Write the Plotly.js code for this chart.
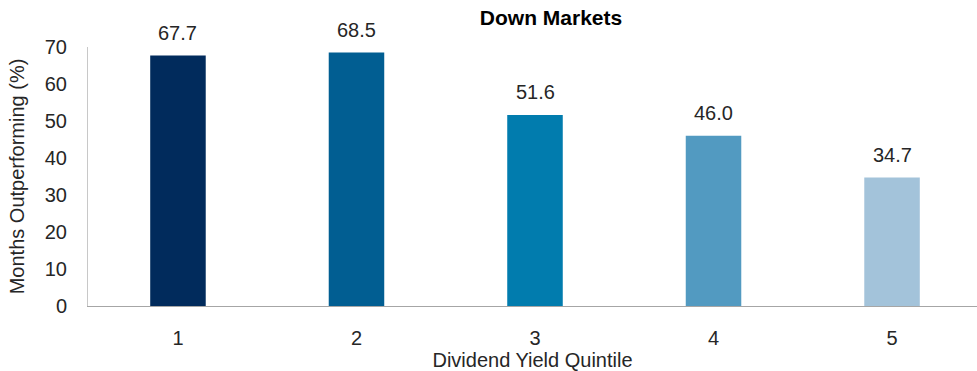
<!DOCTYPE html>
<html>
<head>
<meta charset="utf-8">
<script src="https://cdn.plot.ly/plotly-3.0.1.min.js"></script>
<style>html,body{margin:0;padding:0;background:#fff;}#chart{width:977px;height:371px;}</style>
</head>
<body>
<div id="chart"></div>
<script>
const quintiles = [1, 2, 3, 4, 5];
const monthsOutperforming = [67.7, 68.5, 51.6, 46.0, 34.7];
const valueLabels = ["67.7", "68.5", "51.6", "46.0", "34.7"];
const barColors = ["#012B5C", "#015E92", "#017CAE", "#529AC1", "#A3C3DA"];

const FONT = "Liberation Sans, Arial, sans-serif";
const TXT = "#262626";

const trace = {
  type: "bar",
  x: quintiles,
  y: monthsOutperforming,
  width: 0.311,
  marker: {color: barColors, line: {width: 0}},
  hoverinfo: "skip"
};

const annotations = quintiles.map((q, i) => ({
  x: q, y: monthsOutperforming[i], xref: "x", yref: "y",
  text: valueLabels[i], showarrow: false,
  yanchor: "bottom", yshift: 10,
  font: {family: FONT, size: 20, color: TXT}
}));

const layout = {
  width: 977, height: 371,
  margin: {l: 88, r: 0, t: 47, b: 65, pad: 0},
  paper_bgcolor: "#ffffff", plot_bgcolor: "#ffffff",
  showlegend: false,
  title: {
    text: "<b>Down Markets</b>",
    font: {family: FONT, size: 21, color: "#000000"},
    xref: "container", x: 0.564, xanchor: "center",
    yref: "container", y: 0.953, yanchor: "middle"
  },
  xaxis: {
    range: [0.496, 5.476],
    tickvals: quintiles, ticktext: quintiles.map(String),
    showgrid: false, zeroline: false,
    showline: true, linecolor: "#A6A6A6", linewidth: 1,
    ticks: "", ticklabelstandoff: 14,
    tickfont: {family: FONT, size: 20, color: TXT},
    title: {text: "Dividend Yield Quintile", standoff: 9,
            font: {family: FONT, size: 20, color: TXT}},
    fixedrange: true
  },
  yaxis: {
    range: [0, 70], dtick: 10,
    showgrid: false, zeroline: false,
    showline: true, linecolor: "#C8C8C8", linewidth: 1,
    ticks: "", ticklabelstandoff: 16,
    tickfont: {family: FONT, size: 20, color: TXT},
    title: {text: "Months Outperforming (%)", standoff: 14,
            font: {family: FONT, size: 20, color: TXT}},
    fixedrange: true
  },
  annotations: annotations
};

Plotly.newPlot("chart", [trace], layout, {displayModeBar: false, staticPlot: true});
</script>
</body>
</html>
